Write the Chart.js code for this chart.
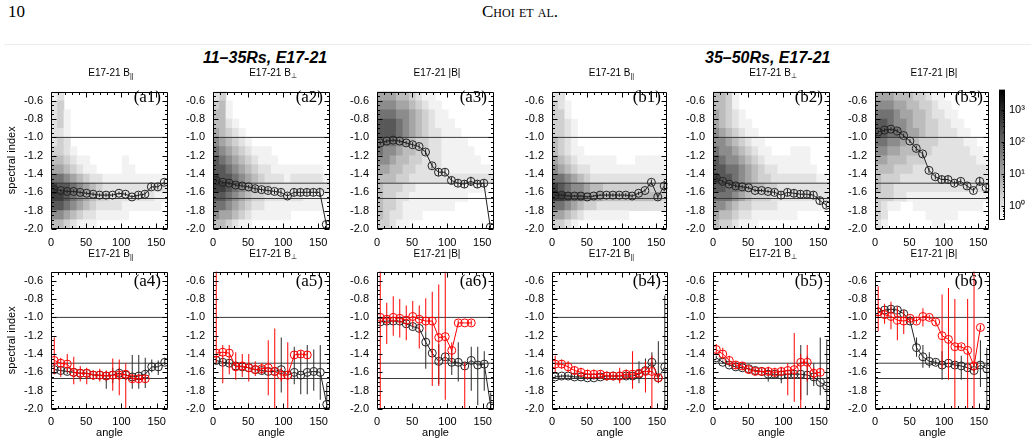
<!DOCTYPE html>
<html>
<head>
<meta charset="utf-8">
<title>Spectral index vs angle, E17-21</title>
<script src="https://cdn.jsdelivr.net/npm/chart.js@4.4.1/dist/chart.umd.min.js"></script>
<style>
  html, body { margin: 0; padding: 0; background: #fff; }
  body { position: relative; width: 1035px; height: 444px; overflow: hidden; }
  canvas { position: absolute; }
  .txt { position: absolute; white-space: nowrap; z-index: 2; color: #000; }
  .serif { font-family: 'Liberation Serif', 'DejaVu Serif', serif; }
  .head { font-size: 17px; line-height: 18px; top: 3px; }
  .group { font: italic bold 16px 'Liberation Sans', Arial, sans-serif; line-height: 18px; top: 49px; }
  .ptitle { font: 10px 'Liberation Sans', Arial, sans-serif; line-height: 12px; transform: translateX(-50%); }
  .ptitle sub { font-size: 7px; vertical-align: -2px; line-height: 0; }
  .plabel { font-family: 'Liberation Serif', serif; font-size: 17px; line-height: 18px; transform: translateX(-100%); }
  .rule { position: absolute; left: 4px; width: 1027px; top: 44px; height: 1px; background: #ececec; }
</style>
</head>
<body>
<div class="txt serif head" style="left:8px">10</div>
<div class="txt serif head" style="left:482px;font-variant:small-caps">Choi et al.</div>
<div class="rule"></div>
<div class="txt group" style="left:203px">11–35Rs, E17-21</div>
<div class="txt group" style="left:705px">35–50Rs, E17-21</div>

<script>
// ---------------------------------------------------------------
// data
// ---------------------------------------------------------------
const angles = [5, 15, 25, 35, 45, 55, 65, 75, 85, 95, 105, 115, 125, 135, 145, 155, 165, 175];
const yTicks = [-2.0, -1.8, -1.6, -1.4, -1.2, -1.0, -0.8, -0.6];
const xTicks = [0, 50, 100, 150];
const refLevels = [-1.0, -1.5, -1.667];
const cbTicks = [1, 10, 100, 1000];
// heat map row edges, top to bottom
const heatEdges = [-0.5, -0.6, -0.7, -0.8, -0.9, -1.0, -1.1, -1.2, -1.3, -1.4, -1.5, -1.6, -1.7, -1.8, -1.9, -2.0];

// top row: mean spectral index and its (small) error
const meanA1 = [-1.57, -1.58, -1.59, -1.59, -1.60, -1.61, -1.62, -1.63, -1.63, -1.63, -1.61, -1.62, -1.65, -1.63, -1.62, -1.54, -1.54, -1.49];
const meanA2 = [-1.47, -1.49, -1.50, -1.52, -1.53, -1.54, -1.56, -1.57, -1.58, -1.59, -1.60, -1.64, -1.60, -1.60, -1.60, -1.60, -1.60, -1.95];
const meanA3 = [-1.06, -1.04, -1.03, -1.04, -1.06, -1.08, -1.10, -1.16, -1.31, -1.38, -1.38, -1.47, -1.50, -1.51, -1.48, -1.51, -1.50, -1.98];
const meanB1 = [-1.63, -1.63, -1.64, -1.64, -1.64, -1.65, -1.64, -1.63, -1.63, -1.63, -1.63, -1.63, -1.64, -1.61, -1.58, -1.49, -1.65, -1.53];
const meanB2 = [-1.44, -1.48, -1.51, -1.53, -1.54, -1.55, -1.58, -1.58, -1.59, -1.60, -1.63, -1.60, -1.61, -1.62, -1.62, -1.63, -1.69, -1.74];
const meanB3 = [-0.94, -0.92, -0.91, -0.93, -0.98, -1.04, -1.12, -1.18, -1.36, -1.43, -1.46, -1.46, -1.50, -1.48, -1.53, -1.58, -1.48, -1.55];

const seA1 = [0.02, 0.02, 0.02, 0.02, 0.02, 0.02, 0.02, 0.02, 0.02, 0.02, 0.02, 0.02, 0.02, 0.03, 0.03, 0.03, 0.03, 0.03];
const seA2 = [0.02, 0.02, 0.02, 0.02, 0.02, 0.02, 0.03, 0.03, 0.03, 0.03, 0.03, 0.03, 0.04, 0.04, 0.04, 0.04, 0.05, 0.04];
const seA3 = [0.02, 0.02, 0.02, 0.02, 0.02, 0.03, 0.03, 0.03, 0.03, 0.04, 0.04, 0.04, 0.04, 0.04, 0.05, 0.04, 0.04, 0.03];
const seB1 = [0.01, 0.01, 0.01, 0.01, 0.01, 0.01, 0.01, 0.01, 0.02, 0.02, 0.02, 0.02, 0.02, 0.02, 0.02, 0.03, 0.03, 0.06];
const seB2 = [0.02, 0.02, 0.02, 0.02, 0.02, 0.02, 0.02, 0.02, 0.02, 0.03, 0.04, 0.04, 0.04, 0.04, 0.04, 0.04, 0.04, 0.03];
const seB3 = [0.02, 0.02, 0.02, 0.02, 0.02, 0.02, 0.03, 0.03, 0.03, 0.03, 0.04, 0.04, 0.03, 0.03, 0.03, 0.03, 0.05, 0.04];

// bottom row: black series (all events) with spread [low, high]
const meanA4 = [-1.57, -1.58, -1.59, -1.60, -1.61, -1.61, -1.63, -1.63, -1.64, -1.63, -1.61, -1.63, -1.65, -1.64, -1.62, -1.54, -1.54, -1.49];
const meanA5 = [-1.47, -1.49, -1.50, -1.53, -1.54, -1.55, -1.57, -1.58, -1.59, -1.59, -1.57, -1.63, -1.60, -1.63, -1.60, -1.59, -1.60, -1.95];
const meanA6 = [-1.05, -1.04, -1.04, -1.04, -1.07, -1.10, -1.12, -1.27, -1.39, -1.48, -1.43, -1.49, -1.49, -1.53, -1.47, -1.52, -1.51, -1.97];
const meanB4 = [-1.65, -1.64, -1.64, -1.65, -1.65, -1.66, -1.66, -1.65, -1.64, -1.64, -1.64, -1.64, -1.64, -1.62, -1.58, -1.49, -1.66, -1.54];
const meanB5 = [-1.44, -1.49, -1.52, -1.54, -1.55, -1.56, -1.58, -1.59, -1.62, -1.62, -1.63, -1.62, -1.62, -1.62, -1.63, -1.65, -1.71, -1.75];
const meanB6 = [-0.94, -0.92, -0.91, -0.92, -0.96, -1.04, -1.33, -1.43, -1.48, -1.49, -1.52, -1.50, -1.52, -1.53, -1.55, -1.58, -1.52, -1.56];

const errBlackA4 = [[-1.60, -1.54], [-1.61, -1.55], [-1.62, -1.56], [-1.63, -1.57], [-1.64, -1.58], [-1.64, -1.58], [-1.66, -1.60], [-1.67, -1.59], [-1.78, -1.59], [-1.72, -1.55], [-1.68, -1.55], [-1.68, -1.58], [-1.78, -1.41], [-1.78, -1.41], [-1.77, -1.44], [-1.60, -1.46], [-1.63, -1.47], [-1.52, -1.44]];
const errBlackA5 = [[-1.50, -1.44], [-1.52, -1.46], [-1.53, -1.47], [-1.56, -1.50], [-1.57, -1.51], [-1.58, -1.52], [-1.60, -1.54], [-1.61, -1.55], [-1.63, -1.55], [-1.63, -1.55], [-1.82, -1.22], [-1.67, -1.59], [-1.73, -1.32], [-1.84, -1.37], [-1.84, -1.30], [-1.80, -1.35], [-1.90, -1.30], [-2.2, -1.72]];
const errBlackA6 = [[-1.08, -1.02], [-1.07, -1.01], [-1.07, -1.01], [-1.07, -1.01], [-1.10, -1.04], [-1.13, -1.07], [-1.15, -1.09], [-1.56, -1.15], [-1.42, -1.36], [-1.73, -1.29], [-1.46, -1.40], [-1.63, -1.35], [-1.70, -1.27], [-1.56, -1.50], [-1.80, -1.32], [-1.96, -1.32], [-1.80, -1.37], [-2.2, -1.82]];
const errBlackB4 = [[-1.67, -1.63], [-1.66, -1.62], [-1.66, -1.62], [-1.67, -1.63], [-1.67, -1.63], [-1.68, -1.64], [-1.68, -1.64], [-1.67, -1.63], [-1.66, -1.62], [-1.66, -1.62], [-1.67, -1.61], [-1.67, -1.61], [-1.68, -1.60], [-1.72, -1.48], [-1.70, -1.45], [-1.62, -1.38], [-1.72, -1.26], [-2.2, -0.76]];
const errBlackB5 = [[-1.46, -1.42], [-1.51, -1.47], [-1.54, -1.50], [-1.56, -1.52], [-1.57, -1.53], [-1.58, -1.54], [-1.60, -1.56], [-1.62, -1.56], [-1.70, -1.55], [-1.66, -1.58], [-1.72, -1.55], [-1.66, -1.58], [-1.66, -1.58], [-1.90, -1.30], [-1.85, -1.42], [-1.75, -1.50], [-1.85, -1.22], [-2.2, -1.24]];
const errBlackB6 = [[-0.97, -0.91], [-0.95, -0.89], [-0.94, -0.88], [-0.95, -0.89], [-0.99, -0.93], [-1.07, -1.01], [-1.43, -1.22], [-1.55, -1.30], [-1.55, -1.38], [-1.52, -1.46], [-1.68, -1.37], [-1.53, -1.47], [-1.55, -1.49], [-1.68, -1.42], [-1.58, -1.52], [-1.61, -1.55], [-1.76, -1.25], [-2.2, -1.33]];

// bottom row: red series (subset) with spread [low, high]
const redA4 = [-1.47, -1.50, -1.51, -1.60, -1.61, -1.61, -1.63, -1.63, -1.64, -1.63, -1.63, -1.62, -1.67, -1.67, -1.67];
const redA5 = [-1.39, -1.38, -1.39, -1.54, -1.53, -1.55, -1.57, -1.56, -1.55, -1.59, -1.63, -1.63, -1.41, -1.40, -1.41];
const redA6 = [-1.00, -1.02, -1.00, -1.01, -1.03, -0.99, -1.02, -1.04, -1.04, -1.22, -1.21, -1.36, -1.06, -1.06, -1.06];
const redB4 = [-1.51, -1.51, -1.54, -1.58, -1.60, -1.62, -1.62, -1.62, -1.64, -1.64, -1.64, -1.62, -1.62, -1.61, -1.59, -1.59, -1.66];
const redB5 = [-1.35, -1.40, -1.47, -1.52, -1.53, -1.57, -1.59, -1.59, -1.59, -1.60, -1.59, -1.58, -1.57, -1.49, -1.49, -1.61, -1.60];
const redB6 = [-0.94, -0.97, -0.99, -1.03, -1.04, -1.01, -1.04, -0.99, -1.00, -1.05, -1.20, -1.24, -1.32, -1.32, -1.36, -1.53, -1.11];

const errRedA4 = [[-1.62, -1.22], [-1.65, -1.44], [-1.60, -1.40], [-1.73, -1.43], [-1.70, -1.53], [-1.73, -1.55], [-1.68, -1.58], [-1.70, -1.56], [-1.68, -1.58], [-1.80, -1.45], [-1.85, -1.46], [-2.2, -1.50], [-1.72, -1.62], [-1.72, -1.62], [-1.71, -1.63]];
const errRedA5 = [[-1.50, -0.40], [-1.72, -1.30], [-1.62, -1.30], [-1.68, -1.38], [-1.65, -1.40], [-1.70, -1.40], [-1.64, -1.48], [-1.62, -1.50], [-1.85, -1.25], [-2.2, -1.12], [-1.70, -1.55], [-2.2, -1.27], [-1.45, -1.37], [-1.44, -1.36], [-1.45, -1.37]];
const errRedA6 = [[-2.2, -0.40], [-1.29, -0.84], [-1.20, -0.77], [-1.22, -0.80], [-1.25, -0.87], [-1.10, -0.82], [-1.34, -0.87], [-1.15, -0.79], [-1.75, -0.72], [-1.75, -0.64], [-1.90, -0.50], [-1.49, -1.27], [-1.09, -1.03], [-2.2, -1.49], [-1.09, -1.03]];
const errRedB4 = [[-1.60, -1.42], [-1.56, -1.46], [-1.60, -1.48], [-1.63, -1.53], [-1.65, -1.55], [-1.67, -1.57], [-1.67, -1.57], [-1.66, -1.58], [-1.68, -1.60], [-1.68, -1.60], [-1.72, -1.55], [-1.67, -1.57], [-1.78, -1.37], [-1.65, -1.57], [-1.82, -1.48], [-2.2, -1.42], [-1.70, -1.62]];
const errRedB5 = [[-1.40, -1.29], [-1.46, -1.33], [-1.52, -1.42], [-1.56, -1.48], [-1.57, -1.49], [-1.61, -1.53], [-1.63, -1.55], [-1.63, -1.55], [-1.64, -1.54], [-1.65, -1.55], [-1.64, -1.54], [-1.85, -1.50], [-1.92, -1.17], [-2.2, -1.40], [-1.70, -1.30], [-1.68, -1.55], [-1.64, -1.56]];
const errRedB6 = [[-1.15, -0.66], [-1.07, -0.85], [-1.13, -0.83], [-1.25, -0.88], [-1.18, -0.92], [-1.04, -0.98], [-1.07, -1.01], [-1.10, -0.90], [-1.03, -0.97], [-1.08, -1.02], [-1.56, -0.75], [-1.68, -0.68], [-2.2, -0.80], [-1.35, -1.29], [-2.2, -0.80], [-2.2, -0.45], [-1.14, -1.08]];

// 2D histogram shading, 0 = empty, 1..9 = light..dark (rows top to bottom, 10 deg columns)
const heatA1 = [
  '120000000000000000',
  '230000000000000000',
  '231000000000000000',
  '231000000000000000',
  '221000000000000000',
  '232000000000000000',
  '332100000000000000',
  '443211000001000000',
  '554321100001100000',
  '776543221111111111',
  '988765432222222222',
  '998765433222222211',
  '887654322221111110',
  '665432211111000000',
  '443211100000000000'
];
const heatA2 = [
  '230000000000000000',
  '341000000000000000',
  '441000000000000000',
  '442100000000000000',
  '543210000000000000',
  '654321000000000000',
  '765432111000000000',
  '876543211100000000',
  '887654322111111110',
  '988765432221222221',
  '998765433222222222',
  '887654332222221111',
  '776543221111111110',
  '655432111111000000',
  '443211000000000000'
];
const heatA3 = [
  '555443211000000000',
  '666554321100000000',
  '777665432110000000',
  '888765432111000000',
  '888765432211100000',
  '777654332211110000',
  '766544332211111000',
  '665443322211111100',
  '554433222211111111',
  '444332222222222222',
  '433322111111111110',
  '433221111111110000',
  '433211111111000000',
  '432211100000000000',
  '332110000000000000'
];
const heatB1 = [
  '220000000000000000',
  '321000000000000000',
  '331000000000000000',
  '332100000000000000',
  '332100000000000000',
  '432100000000000000',
  '432110000000000000',
  '543211111100011111',
  '654322111111111111',
  '776543222222222222',
  '987665443333333333',
  '998776554444444443',
  '776543322222222222',
  '554321111111000000',
  '332100000000000000'
];
const heatB2 = [
  '443100000000000000',
  '443100000000000000',
  '543210000000000000',
  '543211000000000000',
  '654321100000000000',
  '665432110000000000',
  '766543211000111000',
  '876654321111111000',
  '887765432211111100',
  '988765433222222211',
  '887765443322222222',
  '777654333222222222',
  '665433222211111111',
  '544322111111100000',
  '433211100000000000'
];
const heatB3 = [
  '555444332110000000',
  '666554433211000000',
  '777655443221100000',
  '887665443322110000',
  '887765543322211000',
  '776654433322221100',
  '665544433222222110',
  '554443332222222211',
  '444333222222222222',
  '433322222222222222',
  '433222222222222221',
  '333221111111111111',
  '321100111111111110',
  '320000001111100000',
  '210000000110000000'
];

// ---------------------------------------------------------------
// layout
// ---------------------------------------------------------------
const COL_LEFT = [51, 213, 377, 552, 713, 875];
const COL_W = [120, 120, 120, 119, 120, 118];
const ROW_TOP = [83, 263];
const PLOT_H = 146;
const FONT = "'Liberation Sans', Arial, sans-serif";
// grey value for each shading level 0..9
const HEAT_GREY = [255, 242, 226, 208, 188, 165, 140, 114, 88, 62];

const TITLES = {
  par: 'E17-21 B<sub>||</sub>',
  perp: 'E17-21 B<sub>⊥</sub>',
  mag: 'E17-21 |B|'
};

const panels = [
  { tag: 'a1', col: 0, row: 0, comp: 'par', heat: heatA1, mean: meanA1, se: seA1 },
  { tag: 'a2', col: 1, row: 0, comp: 'perp', heat: heatA2, mean: meanA2, se: seA2 },
  { tag: 'a3', col: 2, row: 0, comp: 'mag', heat: heatA3, mean: meanA3, se: seA3 },
  { tag: 'b1', col: 3, row: 0, comp: 'par', heat: heatB1, mean: meanB1, se: seB1 },
  { tag: 'b2', col: 4, row: 0, comp: 'perp', heat: heatB2, mean: meanB2, se: seB2 },
  { tag: 'b3', col: 5, row: 0, comp: 'mag', heat: heatB3, mean: meanB3, se: seB3 },
  { tag: 'a4', col: 0, row: 1, comp: 'par', mean: meanA4, err: errBlackA4, red: redA4, redErr: errRedA4 },
  { tag: 'a5', col: 1, row: 1, comp: 'perp', mean: meanA5, err: errBlackA5, red: redA5, redErr: errRedA5 },
  { tag: 'a6', col: 2, row: 1, comp: 'mag', mean: meanA6, err: errBlackA6, red: redA6, redErr: errRedA6 },
  { tag: 'b4', col: 3, row: 1, comp: 'par', mean: meanB4, err: errBlackB4, red: redB4, redErr: errRedB4 },
  { tag: 'b5', col: 4, row: 1, comp: 'perp', mean: meanB5, err: errBlackB5, red: redB5, redErr: errRedB5 },
  { tag: 'b6', col: 5, row: 1, comp: 'mag', mean: meanB6, err: errBlackB6, red: redB6, redErr: errRedB6 }
];

Chart.defaults.font.family = FONT;
Chart.defaults.font.size = 11;
Chart.defaults.color = '#000';
Chart.defaults.animation = false;

function grey(level) {
  const g = HEAT_GREY[level];
  return `rgb(${g},${g},${g})`;
}

function heatCells(rows) {
  const data = [], colors = [];
  rows.forEach((row, r) => {
    for (let c = 0; c < angles.length; c++) {
      const lvl = Number(row[c] || 0);
      if (!lvl) continue;
      data.push({ x: angles[c], y: [heatEdges[r + 1], heatEdges[r]] });
      colors.push(grey(lvl));
    }
  });
  return { data, colors };
}

function errBars(pairs, color, order) {
  return {
    type: 'bar',
    data: pairs.map((p, i) => ({ x: angles[i], y: p })),
    backgroundColor: color,
    borderWidth: 0,
    grouped: false,
    barThickness: 1,
    maxBarThickness: 1,
    inflateAmount: 0,
    order
  };
}

function meanLine(vals, color, order) {
  return {
    type: 'line',
    data: vals.map((v, i) => ({ x: angles[i], y: v })),
    borderColor: color,
    borderWidth: 1,
    pointStyle: 'circle',
    pointRadius: 4,
    pointBorderWidth: 1,
    pointBorderColor: color,
    pointBackgroundColor: 'rgba(0,0,0,0)',
    order
  };
}

// box with inward major / minor ticks on all four sides
const frameTicks = {
  id: 'frameTicks',
  afterDatasetsDraw(chart) {
    const { ctx, chartArea: a, scales } = chart;
    const y = scales.y, xt = scales.xt;
    const L = Math.round(a.left) + 0.5, R = Math.round(a.right) - 0.5;
    const T = Math.round(a.top) + 0.5, B = Math.round(a.bottom) - 0.5;
    ctx.save();
    ctx.strokeStyle = '#000';
    ctx.lineWidth = 1;
    ctx.beginPath();
    ctx.rect(L, T, R - L, B - T);
    for (let i = 0; i < 30; i++) {
      const py = Math.round(y.getPixelForValue(-2 + i * 0.05)) + 0.5;
      const len = i % 4 === 0 ? 5 : 2.5;
      ctx.moveTo(L, py); ctx.lineTo(L + len, py);
      ctx.moveTo(R, py); ctx.lineTo(R - len, py);
    }
    for (let v = 0; v <= xt.max; v += 10) {
      const px = Math.round(xt.getPixelForValue(v)) + 0.5;
      const len = v % 50 === 0 ? 5 : 2.5;
      ctx.moveTo(px, B); ctx.lineTo(px, B - len);
      ctx.moveTo(px, T); ctx.lineTo(px, T + len);
    }
    ctx.stroke();
    ctx.restore();
  }
};

function addText(cls, html, left, top) {
  const d = document.createElement('div');
  d.className = 'txt ' + cls;
  d.innerHTML = html;
  d.style.left = left + 'px';
  d.style.top = top + 'px';
  document.body.appendChild(d);
}

function buildPanel(p) {
  const first = p.col === 0, bottom = p.row === 1;
  const wy = first ? 51 : 40, hx = bottom ? 31 : 22;
  const padTop = 6, padRight = 2;
  const w = wy + COL_W[p.col] + padRight, h = padTop + PLOT_H + hx;
  const cv = document.createElement('canvas');
  cv.width = w; cv.height = h;
  cv.style.left = (COL_LEFT[p.col] - wy) + 'px';
  cv.style.top = (ROW_TOP[p.row] - padTop) + 'px';
  cv.style.width = w + 'px';
  cv.style.height = h + 'px';
  document.body.appendChild(cv);

  const datasets = [];
  if (p.heat) {
    const hc = heatCells(p.heat);
    datasets.push({
      type: 'bar', data: hc.data, backgroundColor: hc.colors, borderWidth: 0,
      grouped: false, barPercentage: 1, categoryPercentage: 1, order: 20
    });
  }
  refLevels.forEach(v => datasets.push({
    type: 'line', data: [{ x: 0, y: v }, { x: 180, y: v }],
    borderColor: '#3a3a3a', borderWidth: 1, pointRadius: 0, order: 15
  }));
  if (p.se) {
    datasets.push(errBars(p.mean.map((m, i) => [m - p.se[i], m + p.se[i]]), '#222', 6));
    datasets.push(meanLine(p.mean, '#222', 5));
  } else {
    datasets.push(errBars(p.err, '#2a2a2a', 6));
    datasets.push(meanLine(p.mean, '#222', 5));
    datasets.push(errBars(p.redErr, '#ff0000', 2));
    datasets.push(meanLine(p.red, '#ff0000', 1));
  }

  new Chart(cv, {
    type: 'bar',
    data: { datasets },
    options: {
      responsive: false,
      events: [],
      layout: { padding: { top: padTop, right: padRight, left: 0, bottom: 0 } },
      plugins: { legend: { display: false }, tooltip: { enabled: false } },
      scales: {
        x: { type: 'linear', min: 0, max: 180, offset: false, display: false },
        xt: {
          type: 'linear', axis: 'x', position: 'bottom', min: 0, max: 166, offset: false,
          grid: { display: false, drawTicks: false },
          border: { display: false },
          ticks: { padding: bottom ? 6 : 7, maxRotation: 0, autoSkip: false, callback: v => String(v) },
          afterBuildTicks: s => { s.ticks = xTicks.map(v => ({ value: v })); },
          afterFit: s => { s.height = hx; },
          title: { display: bottom, text: 'angle', padding: 0, font: { size: 11 } }
        },
        y: {
          type: 'linear', position: 'left', min: -2.0, max: -0.5,
          grid: { display: false, drawTicks: false },
          border: { display: false },
          ticks: { padding: 8, callback: v => v.toFixed(1) },
          afterBuildTicks: s => { s.ticks = yTicks.map(v => ({ value: v })); },
          afterFit: s => { s.width = wy; },
          title: { display: first, text: 'spectral index', padding: { top: 5, bottom: 0 }, font: { size: 11 } }
        }
      }
    },
    plugins: [frameTicks]
  });

  const cx = COL_LEFT[p.col] + COL_W[p.col] / 2;
  addText('ptitle', TITLES[p.comp], cx, bottom ? 248 : 67);
  addText('plabel', '(' + p.tag + ')', COL_LEFT[p.col] + COL_W[p.col] - 10, bottom ? 272 : 88);
}

panels.forEach(buildPanel);

// ---------------------------------------------------------------
// colour bar (counts, log scale)
// ---------------------------------------------------------------
const SUP = ['⁰', '¹', '²', '³'];
const cbMin = 0.37, cbMax = 4170;

const cbFrame = {
  id: 'cbFrame',
  afterDatasetsDraw(chart) {
    const { ctx, chartArea: a, scales: { y } } = chart;
    const L = Math.round(a.left) + 0.5, R = Math.round(a.right) - 0.5;
    const T = Math.round(a.top) + 0.5, B = Math.round(a.bottom) - 0.5;
    ctx.save();
    ctx.strokeStyle = '#000';
    ctx.lineWidth = 1;
    ctx.beginPath();
    ctx.rect(L, T, R - L, B - T);
    for (let e = -1; e <= 3; e++) {
      for (let m = 1; m <= 9; m++) {
        const v = m * Math.pow(10, e);
        if (v < cbMin || v > cbMax) continue;
        const py = Math.round(y.getPixelForValue(v)) + 0.5;
        const len = m === 1 ? 3 : 1.5;
        ctx.moveTo(R, py); ctx.lineTo(R - len, py);
      }
    }
    ctx.stroke();
    ctx.restore();
  }
};

(function buildColorbar() {
  const w = 40, h = 152;
  const cv = document.createElement('canvas');
  cv.width = w; cv.height = h;
  cv.style.left = '995px';
  cv.style.top = '79px';
  cv.style.width = w + 'px';
  cv.style.height = h + 'px';
  document.body.appendChild(cv);

  new Chart(cv, {
    type: 'bar',
    data: {
      labels: ['counts'],
      datasets: [{
        data: [[cbMin, cbMax]],
        backgroundColor: (c) => {
          const a = c.chart.chartArea;
          if (!a) return '#888';
          const g = c.chart.ctx.createLinearGradient(0, a.bottom, 0, a.top);
          g.addColorStop(0, '#ffffff');
          g.addColorStop(1, '#000000');
          return g;
        },
        borderWidth: 0,
        barPercentage: 1,
        categoryPercentage: 1
      }]
    },
    options: {
      responsive: false,
      events: [],
      layout: { padding: { left: 4, top: 6, bottom: 4, right: 0 } },
      plugins: { legend: { display: false }, tooltip: { enabled: false } },
      scales: {
        x: { display: false },
        y: {
          type: 'logarithmic', position: 'right', min: cbMin, max: cbMax,
          grid: { display: false, drawTicks: false },
          border: { display: false },
          ticks: { padding: 4, font: { size: 11 }, callback: v => '10' + SUP[Math.round(Math.log10(v))] },
          afterBuildTicks: s => { s.ticks = cbTicks.map(v => ({ value: v })); },
          afterFit: s => { s.width = 30; }
        }
      }
    },
    plugins: [cbFrame]
  });
})();
</script>
</body>
</html>
